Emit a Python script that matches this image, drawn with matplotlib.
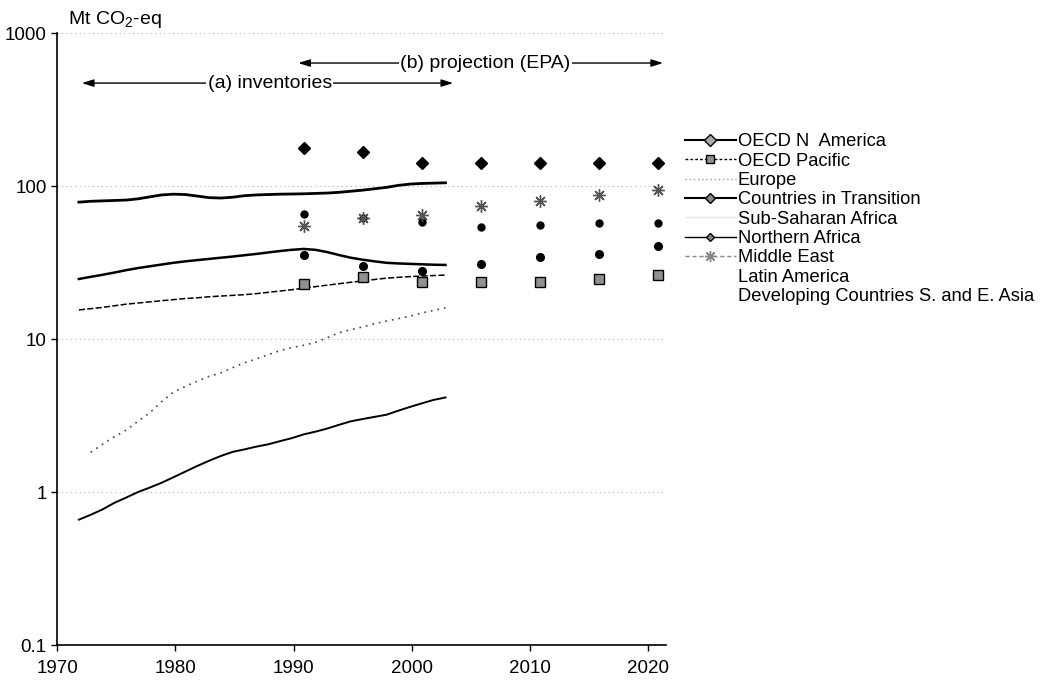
import numpy as np
import matplotlib
matplotlib.use("Agg")
import matplotlib.pyplot as plt
from matplotlib.lines import Line2D

plt.rcParams['font.family'] = ['Liberation Sans', 'DejaVu Sans']
plt.rcParams['mathtext.fontset'] = 'custom'
plt.rcParams['mathtext.rm'] = 'Liberation Sans'

# inventory years and projection years
inv_years = np.arange(1971, 2003)
proj_years = np.array([1990, 1995, 2000, 2005, 2010, 2015, 2020])

# (a) inventories, Mt CO2-eq
oecd_na = [78.5, 79.5, 80, 80.5, 81, 82.5, 85, 87.5, 88.5, 88, 86, 84, 83.5, 84.5,
           86.5, 87.5, 88, 88.5, 88.7, 89, 89.5, 90, 91, 92.5, 94, 96, 98, 101,
           103, 104, 104.5, 105]
oecd_pac = [15.5, 15.8, 16.1, 16.5, 16.9, 17.2, 17.5, 17.8, 18.1, 18.4, 18.6, 18.9,
            19.1, 19.3, 19.5, 19.8, 20.2, 20.6, 21, 21.5, 22, 22.5, 23, 23.5, 24,
            24.5, 25, 25.3, 25.6, 25.8, 26, 26.2]
europe = [np.nan, 1.82, 2.05, 2.3, 2.54, 2.9, 3.3, 3.9, 4.5, 4.9, 5.3, 5.7, 6.0, 6.5,
          7.0, 7.4, 7.9, 8.4, 8.8, 9.1, 9.5, 10.2, 11.0, 11.5, 12.0, 12.6, 13.1,
          13.6, 14.1, 14.8, 15.4, 16.0]
transition = [24.7, 25.5, 26.3, 27.2, 28.2, 29.1, 29.9, 30.7, 31.5, 32.2, 32.8, 33.4,
              34, 34.6, 35.3, 36, 36.8, 37.6, 38.3, 38.8, 38.3, 37, 35.4, 34, 33,
              32.2, 31.5, 31.2, 31, 30.8, 30.6, 30.5]
n_africa = [0.66, 0.71, 0.77, 0.85, 0.92, 1.0, 1.07, 1.15, 1.25, 1.36, 1.48, 1.6,
            1.72, 1.83, 1.9, 1.98, 2.05, 2.15, 2.25, 2.38, 2.48, 2.6, 2.75, 2.9,
            3.0, 3.1, 3.2, 3.4, 3.6, 3.8, 4.0, 4.15]

# (b) EPA projections, Mt CO2-eq
oecd_na_proj = [178, 168, 142, 142, 142, 142, 142]
oecd_pac_proj = [23, 25.4, 23.6, 23.6, 23.6, 24.7, 26.2]
transition_proj = [35.4, 30, 28, 31, 34.4, 36, 40.5]
n_africa_proj = [66, 62, 58, 54, 55.6, 57, 57]
middle_east_proj = [55, 62, 65, 74, 80, 87, 94]

regions = ['OECD N  America', 'OECD Pacific', 'Europe', 'Countries in Transition',
           'Sub-Saharan Africa', 'Northern Africa', 'Middle East', 'Latin America',
           'Developing Countries S. and E. Asia']

# yearly points are drawn late in each year on this axis
x_shift = 0.85

fig = plt.figure(figsize=(10.6, 6.83), dpi=100)
ax = fig.add_axes([0.0538, 0.0556, 0.5745, 0.896])
ax.set_yscale('log')
ax.set_ylim(0.1, 1000)
ax.set_xlim(1970, 2021.5)

ax.yaxis.grid(True, which='major', color='#b0b0b0', linestyle=(0, (1, 3)), lw=0.8)
ax.set_axisbelow(True)

x_inv = inv_years + x_shift
x_proj = proj_years + x_shift

ax.plot(x_inv, oecd_na, color='black', lw=2)
ax.plot(x_inv, transition, color='black', lw=1.8)
ax.plot(x_inv, oecd_pac, color='black', lw=1.1, linestyle=(0, (4, 1.5)))
ax.plot(x_inv, europe, color='#444444', lw=1.2, linestyle=(0, (1, 3)))
ax.plot(x_inv, n_africa, color='black', lw=1.4)

ax.plot(x_proj, oecd_na_proj, 'D', color='black', ms=6.5, ls='none')
ax.plot(x_proj, oecd_pac_proj, 's', mfc='#909090', mec='black', ms=6.5, ls='none')
ax.plot(x_proj, transition_proj, 'o', color='black', ms=5.5, ls='none')
ax.plot(x_proj, n_africa_proj, 'o', color='black', ms=5, ls='none')
ax.plot(x_proj, middle_east_proj, marker=(8, 2, 0), color='#555555', ms=9, mew=1,
        ls='none')

ax.set_yticks([0.1, 1, 10, 100, 1000])
ax.set_yticklabels(['0.1', '1', '10', '100', '1000'])
ax.yaxis.set_minor_locator(matplotlib.ticker.NullLocator())
ax.set_xticks([1970, 1980, 1990, 2000, 2010, 2020])
ax.tick_params(axis='both', labelsize=13.5, length=4, width=1, direction='out')
ax.tick_params(axis='x', pad=7)
for s in ['top', 'right']:
    ax.spines[s].set_visible(False)
for s in ['left', 'bottom']:
    ax.spines[s].set_linewidth(1.2)

# period arrows
arrow = dict(arrowstyle='<|-|>,head_length=0.7,head_width=0.22', color='black', lw=1,
             shrinkA=0, shrinkB=0)
ax.annotate('', xy=(1972.1, 471), xytext=(2003.5, 471), arrowprops=arrow,
            annotation_clip=False)
ax.text(1988.0, 471, '(a) inventories', ha='center', va='center', fontsize=14,
        bbox=dict(fc='white', ec='none', pad=1))
ax.annotate('', xy=(1990.4, 637), xytext=(2021.25, 637), arrowprops=arrow,
            annotation_clip=False)
ax.text(2006.2, 637, '(b) projection (EPA)', ha='center', va='center', fontsize=14,
        bbox=dict(fc='white', ec='none', pad=1))

fig.text(68 / 1060, 1 - 20 / 683, 'Mt CO$_2$-eq', fontsize=14, ha='left', va='center')

handles = [
    Line2D([], [], color='black', lw=1.5, marker='D', ms=6, mfc='#aaaaaa', mec='black'),
    Line2D([], [], color='black', lw=1, ls=(0, (2, 1.5)), marker='s', ms=6,
           mfc='#909090', mec='black'),
    Line2D([], [], color='#999999', lw=1, ls=(0, (1, 2))),
    Line2D([], [], color='black', lw=1.5, marker='D', ms=5, mfc='#888888', mec='black'),
    Line2D([], [], color='#e6e6e6', lw=1),
    Line2D([], [], color='black', lw=1, marker='D', ms=4, mfc='#888888', mec='black'),
    Line2D([], [], color='#888888', lw=1, ls=(0, (3, 2)), marker=(8, 2, 0), ms=8),
    Line2D([], [], color='none'),
    Line2D([], [], color='none'),
]
fig.legend(handles, regions, loc='upper left', bbox_to_anchor=(0.646, 0.805),
           frameon=False, fontsize=13.2, handlelength=2.8, handletextpad=0.1,
           labelspacing=0.13, borderpad=0, borderaxespad=0)

fig.savefig('out.png', dpi=100)
